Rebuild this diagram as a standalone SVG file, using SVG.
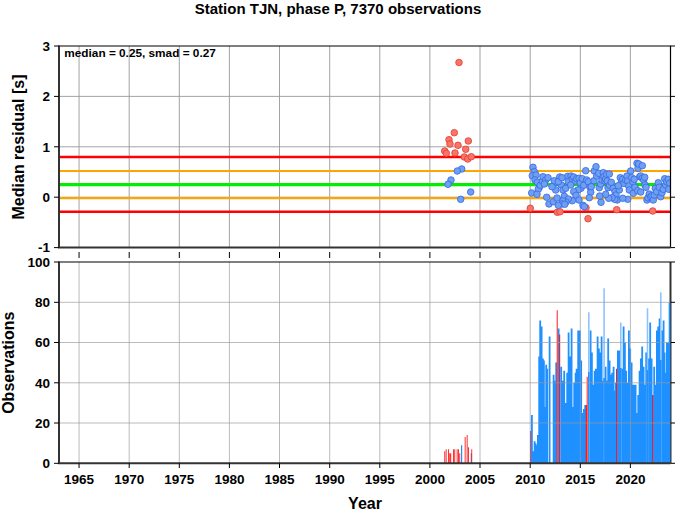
<svg xmlns="http://www.w3.org/2000/svg" width="677" height="511" viewBox="0 0 677 511">
<style>
text{font-family:"Liberation Sans",Arial,Helvetica,sans-serif;font-weight:bold;fill:#000}
.t{font-size:13.5px;text-anchor:end}
.yr{font-size:13.5px;text-anchor:middle}
.lab{font-size:16px;text-anchor:middle}
.grid{stroke:#999;stroke-width:0.9;fill:none}
.tick{stroke:#000;stroke-width:1;fill:none}
.ax{stroke:#333;stroke-width:2;fill:none}
.bd{stroke:#000;stroke-width:1.2;fill:none}
.rp{fill:#f87468;stroke:#e23c30;stroke-width:0.8}
.bp{fill:#6f9ff0;stroke:#3568e6;stroke-width:0.8}
.bar{fill:#1e90ff}
.lbar{fill:#8ec4fb}
.rbar{fill:#ff1a1a}
</style>
<defs>
<clipPath id="c1"><rect x="59" y="46" width="611.5" height="201.6"/></clipPath>
<clipPath id="c2"><rect x="59" y="262" width="611.5" height="201.3"/></clipPath>
</defs>
<text x="338" y="13.5" style="font-size:15px;text-anchor:middle">Station TJN, phase P, 7370 observations</text>

<g id="panel-residual">
<g id="grid-top">
<path class="grid" d="M79.05,46V247.6M129.2,46V247.6M179.3,46V247.6M229.4,46V247.6M279.5,46V247.6M329.7,46V247.6M379.8,46V247.6M429.9,46V247.6M480,46V247.6M530.2,46V247.6M580.3,46V247.6M630.4,46V247.6M59,96.4H670.5M59,146.8H670.5M59,197.2H670.5"/>
</g>
<g id="thresholds">
<line x1="59" y1="157" x2="670.5" y2="157" stroke="#ff0000" stroke-width="2.4"/>
<line x1="59" y1="171" x2="670.5" y2="171" stroke="#ffa500" stroke-width="2.2"/>
<line x1="59" y1="184.6" x2="670.5" y2="184.6" stroke="#00ee00" stroke-width="3.2"/>
<line x1="59" y1="198.2" x2="670.5" y2="198.2" stroke="#ffa500" stroke-width="2.2"/>
<line x1="59" y1="211.8" x2="670.5" y2="211.8" stroke="#ff0000" stroke-width="2.4"/>
</g>
<g id="points" clip-path="url(#c1)">
<g class="rp">
<circle cx="459" cy="62.5" r="3.3"/><circle cx="454.3" cy="132.7" r="3.3"/><circle cx="449" cy="139.7" r="3.3"/><circle cx="450" cy="144" r="3.3"/><circle cx="458" cy="145.3" r="3.3"/><circle cx="468.3" cy="141" r="3.3"/><circle cx="465.7" cy="149.3" r="3.3"/><circle cx="444.7" cy="151" r="3.3"/><circle cx="446.3" cy="153.3" r="3.3"/><circle cx="455" cy="153" r="3.3"/><circle cx="464.3" cy="157" r="3.3"/><circle cx="467.7" cy="159" r="3.3"/><circle cx="471.3" cy="156.7" r="3.3"/>
<circle cx="530.3" cy="208.3" r="3.3"/><circle cx="557.3" cy="212.3" r="3.3"/><circle cx="560" cy="211.7" r="3.3"/><circle cx="586" cy="207.7" r="3.3"/><circle cx="588" cy="218.7" r="3.3"/><circle cx="616.7" cy="209.7" r="3.3"/><circle cx="652.7" cy="211" r="3.3"/>
</g>
<g class="bp">
<circle cx="461.7" cy="169" r="3.3"/><circle cx="457.3" cy="171" r="3.3"/><circle cx="451" cy="180" r="3.3"/><circle cx="448" cy="184.3" r="3.3"/><circle cx="470.7" cy="192" r="3.3"/><circle cx="460.7" cy="199.3" r="3.3"/>
<circle cx="533" cy="167.3" r="3.3"/><circle cx="534.3" cy="171.7" r="3.3"/><circle cx="532.3" cy="175.7" r="3.3"/><circle cx="536" cy="175" r="3.3"/><circle cx="535" cy="180" r="3.3"/><circle cx="537.3" cy="182.3" r="3.3"/><circle cx="539.3" cy="187.3" r="3.3"/><circle cx="538.3" cy="189.3" r="3.3"/><circle cx="540.3" cy="185.3" r="3.3"/><circle cx="542.3" cy="181" r="3.3"/><circle cx="543" cy="176.7" r="3.3"/><circle cx="545.7" cy="180" r="3.3"/><circle cx="548" cy="177.7" r="3.3"/><circle cx="544.3" cy="184" r="3.3"/><circle cx="531.7" cy="193" r="3.3"/><circle cx="537" cy="194.3" r="3.3"/><circle cx="546.7" cy="197.3" r="3.3"/><circle cx="549" cy="204" r="3.3"/><circle cx="553.3" cy="201.7" r="3.3"/><circle cx="555.7" cy="190" r="3.3"/><circle cx="556.3" cy="182.3" r="3.3"/><circle cx="559.7" cy="177" r="3.3"/><circle cx="561.3" cy="185" r="3.3"/><circle cx="563" cy="190" r="3.3"/><circle cx="564.3" cy="196.3" r="3.3"/><circle cx="565.7" cy="188.3" r="3.3"/><circle cx="567.7" cy="176.3" r="3.3"/><circle cx="568.3" cy="181.7" r="3.3"/><circle cx="571" cy="176" r="3.3"/><circle cx="572.3" cy="179" r="3.3"/><circle cx="573.7" cy="177" r="3.3"/><circle cx="575.3" cy="181" r="3.3"/><circle cx="576.7" cy="178.7" r="3.3"/><circle cx="579" cy="178.3" r="3.3"/><circle cx="580.3" cy="182.7" r="3.3"/><circle cx="581" cy="188.3" r="3.3"/><circle cx="582.3" cy="178.7" r="3.3"/><circle cx="583.7" cy="185.3" r="3.3"/><circle cx="578" cy="190" r="3.3"/><circle cx="573.7" cy="191.7" r="3.3"/><circle cx="570.7" cy="185" r="3.3"/><circle cx="576" cy="195.3" r="3.3"/><circle cx="579" cy="200" r="3.3"/><circle cx="572.3" cy="200.7" r="3.3"/><circle cx="568.3" cy="199" r="3.3"/><circle cx="566" cy="202" r="3.3"/><circle cx="562.7" cy="201" r="3.3"/><circle cx="561.7" cy="204" r="3.3"/><circle cx="564.7" cy="204.3" r="3.3"/><circle cx="558.3" cy="205.3" r="3.3"/><circle cx="557" cy="198" r="3.3"/><circle cx="585.7" cy="170.7" r="3.3"/><circle cx="586.7" cy="180" r="3.3"/><circle cx="588.3" cy="181.7" r="3.3"/><circle cx="590" cy="187.3" r="3.3"/><circle cx="590.7" cy="192.3" r="3.3"/><circle cx="591.3" cy="186.7" r="3.3"/><circle cx="594" cy="180.7" r="3.3"/><circle cx="594.3" cy="171" r="3.3"/><circle cx="596" cy="166.7" r="3.3"/><circle cx="596.7" cy="176" r="3.3"/><circle cx="598.7" cy="173.3" r="3.3"/><circle cx="599.3" cy="187.7" r="3.3"/><circle cx="600.7" cy="184" r="3.3"/><circle cx="602" cy="180" r="3.3"/><circle cx="603.3" cy="172.7" r="3.3"/><circle cx="604" cy="176.7" r="3.3"/><circle cx="605" cy="181" r="3.3"/><circle cx="605.7" cy="179" r="3.3"/><circle cx="606.7" cy="174.3" r="3.3"/><circle cx="607.3" cy="181" r="3.3"/><circle cx="609.3" cy="174" r="3.3"/><circle cx="608" cy="187.7" r="3.3"/><circle cx="609.7" cy="185.3" r="3.3"/><circle cx="611.3" cy="182.3" r="3.3"/><circle cx="613.3" cy="188.3" r="3.3"/><circle cx="615" cy="191.7" r="3.3"/><circle cx="616" cy="195" r="3.3"/><circle cx="617.3" cy="200" r="3.3"/><circle cx="614.7" cy="199.3" r="3.3"/><circle cx="612" cy="197.7" r="3.3"/><circle cx="608.7" cy="198.3" r="3.3"/><circle cx="605.7" cy="194.3" r="3.3"/><circle cx="601" cy="202.3" r="3.3"/><circle cx="599.7" cy="196" r="3.3"/><circle cx="589.3" cy="197.7" r="3.3"/><circle cx="583" cy="205.3" r="3.3"/><circle cx="584.3" cy="206.7" r="3.3"/><circle cx="620.3" cy="177.7" r="3.3"/><circle cx="621.3" cy="182.7" r="3.3"/><circle cx="622.7" cy="179.3" r="3.3"/><circle cx="624" cy="183.3" r="3.3"/><circle cx="625.7" cy="180" r="3.3"/><circle cx="627" cy="176" r="3.3"/><circle cx="627.7" cy="181" r="3.3"/><circle cx="628.7" cy="186" r="3.3"/><circle cx="629.3" cy="190" r="3.3"/><circle cx="630.7" cy="171" r="3.3"/><circle cx="631.7" cy="177.7" r="3.3"/><circle cx="633" cy="182" r="3.3"/><circle cx="634.3" cy="179.3" r="3.3"/><circle cx="635" cy="187.3" r="3.3"/><circle cx="637" cy="163.3" r="3.3"/><circle cx="638" cy="168.3" r="3.3"/><circle cx="638.7" cy="164" r="3.3"/><circle cx="639.7" cy="176.7" r="3.3"/><circle cx="640.7" cy="176" r="3.3"/><circle cx="642.3" cy="165.7" r="3.3"/><circle cx="642.3" cy="178.3" r="3.3"/><circle cx="643.7" cy="180" r="3.3"/><circle cx="644.7" cy="177.3" r="3.3"/><circle cx="645" cy="185" r="3.3"/><circle cx="646" cy="187.3" r="3.3"/><circle cx="647" cy="200" r="3.3"/><circle cx="648" cy="197.7" r="3.3"/><circle cx="649.3" cy="194" r="3.3"/><circle cx="650.7" cy="196.7" r="3.3"/><circle cx="652" cy="195.7" r="3.3"/><circle cx="653.3" cy="200" r="3.3"/><circle cx="654.3" cy="195" r="3.3"/><circle cx="655.3" cy="188.3" r="3.3"/><circle cx="656.7" cy="191.7" r="3.3"/><circle cx="658.3" cy="182.7" r="3.3"/><circle cx="659.3" cy="187.3" r="3.3"/><circle cx="660.7" cy="196.7" r="3.3"/><circle cx="662" cy="192.7" r="3.3"/><circle cx="663.3" cy="189.3" r="3.3"/><circle cx="664.7" cy="178.7" r="3.3"/><circle cx="665.7" cy="185" r="3.3"/><circle cx="666.7" cy="181.7" r="3.3"/><circle cx="668.3" cy="179.3" r="3.3"/><circle cx="669.7" cy="183.3" r="3.3"/><circle cx="668.7" cy="189.3" r="3.3"/><circle cx="627.7" cy="199.3" r="3.3"/><circle cx="633.3" cy="193.3" r="3.3"/><circle cx="637.7" cy="190.7" r="3.3"/><circle cx="640.7" cy="192" r="3.3"/><circle cx="619.3" cy="190" r="3.3"/><circle cx="618.3" cy="185.7" r="3.3"/><circle cx="622.7" cy="198.3" r="3.3"/><circle cx="552" cy="186.7" r="3.3"/><circle cx="554.3" cy="180.7" r="3.3"/><circle cx="558.3" cy="181.7" r="3.3"/><circle cx="562" cy="177.7" r="3.3"/>
</g>
</g>
<g id="frame-top">
<path class="bd" d="M59,46H670.5V247.6"/>
<path class="ax" d="M59,45.4V247.6H670.5"/>
<path class="tick" d="M54,46H59M54,96.4H59M54,146.8H59M54,197.2H59M54,247.6H59M670.5,46H675M670.5,96.4H675M670.5,146.8H675M670.5,197.2H675M670.5,247.6H675"/>
<path class="tick" d="M79.05,252V258M129.2,252V258M179.3,252V258M229.4,252V258M279.5,252V258M329.7,252V258M379.8,252V258M429.9,252V258M480,252V258M530.2,252V258M580.3,252V258M630.4,252V258"/>
</g>
<g id="labels-top">
<text class="t" x="50" y="50.8">3</text>
<text class="t" x="50" y="101.2">2</text>
<text class="t" x="50" y="151.6">1</text>
<text class="t" x="50" y="202">0</text>
<text class="t" x="50" y="252.4">-1</text>
<text x="64.3" y="57.3" style="font-size:11.8px">median = 0.25, smad = 0.27</text>
<text class="lab" transform="translate(24.3,147) rotate(-90)">Median residual [s]</text>
</g>
</g>

<g id="panel-observations">
<g id="frame-bottom-right">
<path class="ax" d="M670.5,262V463.3"/>
</g>
<g id="bars" clip-path="url(#c2)">
<path class="bar" d="M531,463.3V415h1.8V463.3zM532.7,463.3V451.2h1.8V463.3zM533.7,463.3V441.2h1.8V463.3zM534.7,463.3V443.2h1.8V463.3zM535.7,463.3V445.2h1.8V463.3zM537,463.3V435.1h1.8V463.3zM538.3,463.3V356.6h1.8V463.3zM539.3,463.3V320.4h1.8V463.3zM540.7,463.3V326.4h1.8V463.3zM542,463.3V358.6h1.8V463.3zM543,463.3V360.6h1.8V463.3zM544.3,463.3V406.9h1.8V463.3zM545.3,463.3V364.7h1.8V463.3zM546.3,463.3V368.7h1.8V463.3zM548.7,463.3V336.5h1.8V463.3zM552.7,463.3V374.7h1.8V463.3zM554,463.3V380.8h1.8V463.3zM555.3,463.3V362.6h1.8V463.3zM557.7,463.3V328.4h1.8V463.3zM560.3,463.3V366.7h1.8V463.3zM561.7,463.3V380.8h1.8V463.3zM563.3,463.3V370.7h1.8V463.3zM565,463.3V402.9h1.8V463.3zM566.3,463.3V372.7h1.8V463.3zM567.7,463.3V332.5h1.8V463.3zM569,463.3V356.6h1.8V463.3zM570.7,463.3V328.4h1.8V463.3zM572,463.3V406.9h1.8V463.3zM573.3,463.3V382.8h1.8V463.3zM574.7,463.3V372.7h1.8V463.3zM575.7,463.3V368.7h1.8V463.3zM577.3,463.3V330.4h1.8V463.3zM579,463.3V330.4h1.8V463.3zM580.3,463.3V360.6h1.8V463.3zM582,463.3V413h1.8V463.3zM583,463.3V408.9h1.8V463.3zM584.3,463.3V404.9h1.8V463.3zM589.7,463.3V330.4h1.8V463.3zM591,463.3V352.6h1.8V463.3zM592.3,463.3V384.8h1.8V463.3zM593.7,463.3V370.7h1.8V463.3zM595,463.3V368.7h1.8V463.3zM596.7,463.3V336.5h1.8V463.3zM598,463.3V348.6h1.8V463.3zM599.3,463.3V352.6h1.8V463.3zM600.7,463.3V336.5h1.8V463.3zM602,463.3V380.8h1.8V463.3zM604.7,463.3V366.7h1.8V463.3zM606,463.3V380.8h1.8V463.3zM607.3,463.3V338.5h1.8V463.3zM608.7,463.3V360.6h1.8V463.3zM610,463.3V374.7h1.8V463.3zM611.3,463.3V372.7h1.8V463.3zM612.7,463.3V366.7h1.8V463.3zM614,463.3V390.8h1.8V463.3zM615,463.3V382.8h1.8V463.3zM617,463.3V350.6h1.8V463.3zM618.7,463.3V350.6h1.8V463.3zM621.3,463.3V368.7h1.8V463.3zM622.7,463.3V326.4h1.8V463.3zM624,463.3V342.5h1.8V463.3zM625.3,463.3V370.7h1.8V463.3zM626.7,463.3V382.8h1.8V463.3zM628,463.3V330.4h1.8V463.3zM629.3,463.3V348.6h1.8V463.3zM630.7,463.3V362.6h1.8V463.3zM632,463.3V384.8h1.8V463.3zM633.3,463.3V384.8h1.8V463.3zM634.7,463.3V384.8h1.8V463.3zM636,463.3V413h1.8V463.3zM637.3,463.3V394.9h1.8V463.3zM638.7,463.3V370.7h1.8V463.3zM640,463.3V358.6h1.8V463.3zM641.3,463.3V346.5h1.8V463.3zM642.7,463.3V366.7h1.8V463.3zM644,463.3V384.8h1.8V463.3zM645.3,463.3V352.6h1.8V463.3zM648,463.3V358.6h1.8V463.3zM649.3,463.3V322.4h1.8V463.3zM650.7,463.3V358.6h1.8V463.3zM652,463.3V394.9h1.8V463.3zM653.3,463.3V366.7h1.8V463.3zM654.7,463.3V384.8h1.8V463.3zM656,463.3V330.4h1.8V463.3zM657.3,463.3V326.4h1.8V463.3zM658.7,463.3V318.4h1.8V463.3zM661.3,463.3V330.4h1.8V463.3zM662.7,463.3V320.4h1.8V463.3zM663.7,463.3V352.6h1.8V463.3zM664.7,463.3V372.7h1.8V463.3zM666,463.3V342.5h1.8V463.3zM667.3,463.3V342.5h1.8V463.3zM668.7,463.3V302.3h2V463.3zM461,463.3V445.2h1.2V463.3zM470.7,463.3V453.2h1.2V463.3z"/>
<path class="lbar" d="M588,463.3V312.3h1.6V463.3zM603.3,463.3V288.2h1.6V463.3zM620,463.3V322.4h1.6V463.3zM646.7,463.3V308.3h1.6V463.3zM660,463.3V292.2h1.6V463.3z"/>
<path class="bar" d="M588,463.3V372h1.6V463.3zM603.3,463.3V378h1.6V463.3zM620,463.3V368h1.6V463.3zM646.7,463.3V370h1.6V463.3zM660,463.3V360h1.6V463.3z"/>
<path class="rbar" d="M530,463.3V431.1h1V463.3zM556.7,463.3V310.3h1V463.3zM559,463.3V334.5h1.2V463.3zM585.7,463.3V404.9h1V463.3zM586.7,463.3V376.7h1V463.3zM616,463.3V368.7h1V463.3zM652,463.3V394.9h1V463.3zM444.3,463.3V451.2h0.9V463.3zM445.7,463.3V449.2h0.9V463.3zM448,463.3V449.2h0.9V463.3zM449.3,463.3V453.2h0.9V463.3zM450.3,463.3V453.2h0.9V463.3zM453,463.3V449.2h0.9V463.3zM454.3,463.3V449.2h0.9V463.3zM456.7,463.3V449.2h0.9V463.3zM458,463.3V449.2h0.9V463.3zM459.3,463.3V453.2h0.9V463.3zM464.7,463.3V437.1h0.9V463.3zM466.7,463.3V435.1h0.9V463.3zM468,463.3V447.2h0.9V463.3zM471.3,463.3V449.2h0.9V463.3z"/>
</g>
<g id="grid-bottom">
<path class="grid" style="stroke-opacity:0.75" d="M79.05,262V463.3M129.2,262V463.3M179.3,262V463.3M229.4,262V463.3M279.5,262V463.3M329.7,262V463.3M379.8,262V463.3M429.9,262V463.3M480,262V463.3M530.2,262V463.3M580.3,262V463.3M630.4,262V463.3M59,302.3H670.5M59,342.5H670.5M59,382.8H670.5M59,423H670.5"/>
</g>
<g id="frame-bottom">
<path class="bd" d="M59,262H670.5"/>
<path class="ax" d="M59,261.4V463.3H670.5"/>
<path class="tick" d="M54,262H59M54,302.3H59M54,342.5H59M54,382.8H59M54,423H59M54,463.3H59M670.5,262H675M670.5,302.3H675M670.5,342.5H675M670.5,382.8H675M670.5,423H675M670.5,463.3H675"/>
<path class="tick" d="M79.05,463.3V468M129.2,463.3V468M179.3,463.3V468M229.4,463.3V468M279.5,463.3V468M329.7,463.3V468M379.8,463.3V468M429.9,463.3V468M480,463.3V468M530.2,463.3V468M580.3,463.3V468M630.4,463.3V468"/>
</g>
<g id="labels-bottom">
<text class="t" x="50" y="266.8">100</text>
<text class="t" x="50" y="307.1">80</text>
<text class="t" x="50" y="347.3">60</text>
<text class="t" x="50" y="387.6">40</text>
<text class="t" x="50" y="427.8">20</text>
<text class="t" x="50" y="468.1">0</text>
<text class="yr" x="79.05" y="484">1965</text>
<text class="yr" x="129.2" y="484">1970</text>
<text class="yr" x="179.3" y="484">1975</text>
<text class="yr" x="229.4" y="484">1980</text>
<text class="yr" x="279.5" y="484">1985</text>
<text class="yr" x="329.7" y="484">1990</text>
<text class="yr" x="379.8" y="484">1995</text>
<text class="yr" x="429.9" y="484">2000</text>
<text class="yr" x="480" y="484">2005</text>
<text class="yr" x="530.2" y="484">2010</text>
<text class="yr" x="580.3" y="484">2015</text>
<text class="yr" x="630.4" y="484">2020</text>
<text class="lab" x="365" y="508.5">Year</text>
<text class="lab" transform="translate(13.5,362.7) rotate(-90)">Observations</text>
</g>
</g>
</svg>
